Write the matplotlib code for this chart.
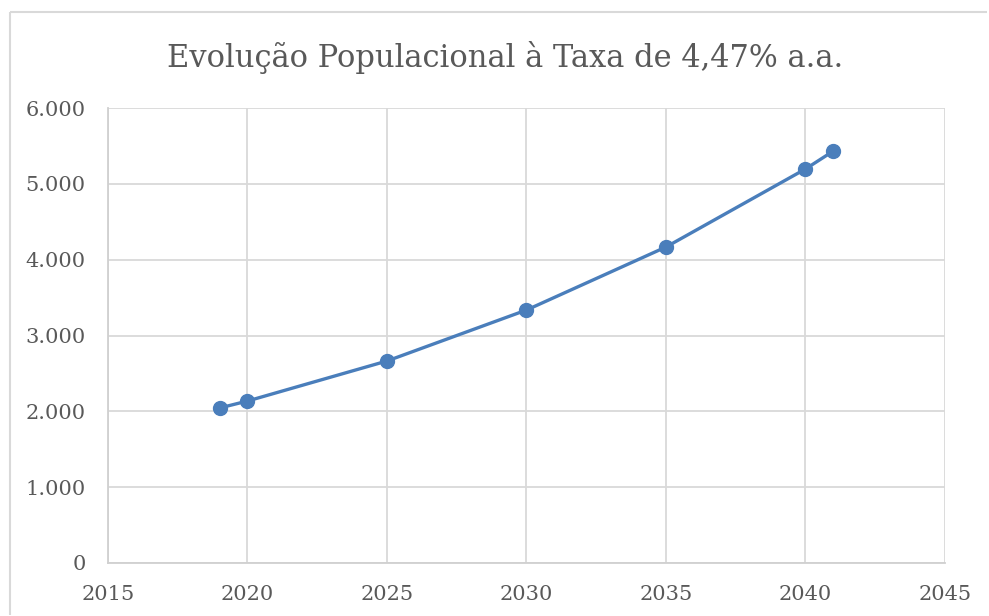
import matplotlib
matplotlib.use("Agg")
import matplotlib.pyplot as plt
from matplotlib.ticker import FuncFormatter
from matplotlib.lines import Line2D

anos = [2019, 2020, 2025, 2030, 2035, 2040, 2041]
populacao = [2044, 2136, 2664, 3336, 4167, 5196, 5433]
x_ticks = [2015, 2020, 2025, 2030, 2035, 2040, 2045]
y_ticks = [0, 1000, 2000, 3000, 4000, 5000, 6000]
titulo = "Evolução Populacional à Taxa de 4,47% a.a."

plt.rcParams['font.family'] = ['DejaVu Serif']
W, H = 989, 616
fig = plt.figure(figsize=(W/100, H/100), dpi=100)
bx, by = 9.5/W, 1 - 11.5/H
fig.lines.append(Line2D([bx, 0.998], [by, by], transform=fig.transFigure,
                        color='#d9d9d9', linewidth=1.5, solid_capstyle='butt'))
fig.lines.append(Line2D([bx, bx], [0.002, by], transform=fig.transFigure,
                        color='#d9d9d9', linewidth=1.5, solid_capstyle='butt'))

ax = fig.add_axes([108/W, (H-563)/H, (945-108)/W, (563-108)/H])
ax.plot(anos, populacao, color='#4a7ebb', linewidth=2.4, marker='o', markersize=10,
        zorder=3, clip_on=False)
ax.set_xlim(2015, 2045)
ax.set_ylim(0, 6000)
ax.set_xticks(x_ticks)
ax.set_yticks(y_ticks)
ax.yaxis.set_major_formatter(FuncFormatter(lambda v, p: f"{int(v):,}".replace(",", ".")))
ax.grid(True, color='#d9d9d9', linewidth=1.3)
ax.set_axisbelow(True)
for s in ['top', 'right']:
    ax.spines[s].set_visible(False)
for s in ['left', 'bottom']:
    ax.spines[s].set_color('#d0d0d0')
    ax.spines[s].set_linewidth(1.3)
ax.tick_params(length=0, labelsize=15, labelcolor='#595959')
ax.tick_params(axis='y', pad=16)
ax.tick_params(axis='x', pad=16)

fig.text(505/W, 1 - 57/H, titulo, ha='center', va='center', fontsize=22, color='#595959')

fig.savefig('out.png', dpi=100)
